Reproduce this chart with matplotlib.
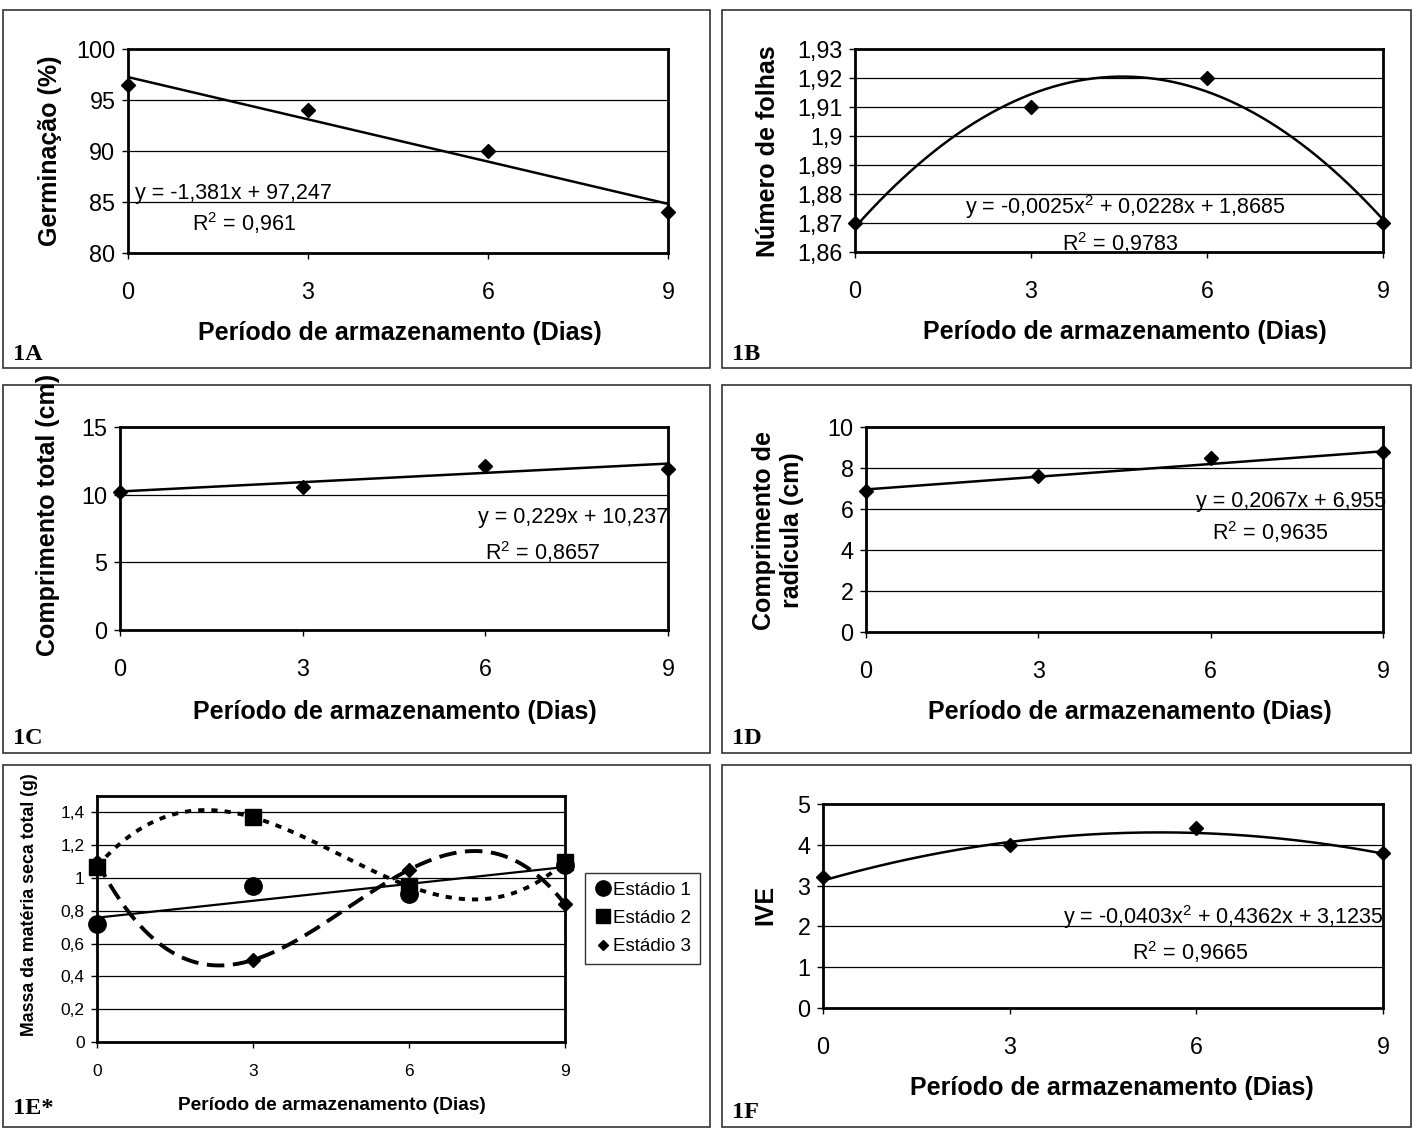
import numpy as np
import matplotlib
matplotlib.use("Agg")
import matplotlib.pyplot as plt
from matplotlib.patches import Rectangle
from matplotlib.lines import Line2D
from matplotlib.ticker import FuncFormatter

plt.rcParams['font.family'] = ['Liberation Sans', 'DejaVu Sans']
plt.rcParams['mathtext.fontset'] = 'custom'
plt.rcParams['mathtext.rm'] = 'Liberation Sans'

# data
days = [0, 3, 6, 9]
germinacao = [96.5, 94.0, 90.0, 84.0]
folhas = [1.87, 1.91, 1.92, 1.87]
comp_total = [10.2, 10.6, 12.1, 11.9]
comp_radicula = [6.9, 7.6, 8.5, 8.8]
ive = [3.2, 4.0, 4.4, 3.8]
massa_est1 = [0.72, 0.95, 0.90, 1.08]
massa_est2 = [1.07, 1.37, 0.95, 1.10]
massa_est3 = [1.10, 0.50, 1.05, 0.84]

# printed trend line coefficients (highest power first)
coef_a = [-1.381, 97.247]
coef_b = [-0.0025, 0.0228, 1.8685]
coef_c = [0.229, 10.237]
coef_d = [0.2067, 6.955]
coef_f = [-0.0403, 0.4362, 3.1235]

eq_a = ['y = -1,381x + 97,247', 'R$^{2}$ = 0,961']
eq_b = ['y = -0,0025x$^{2}$ + 0,0228x + 1,8685', 'R$^{2}$ = 0,9783']
eq_c = ['y = 0,229x + 10,237', 'R$^{2}$ = 0,8657']
eq_d = ['y = 0,2067x + 6,955', 'R$^{2}$ = 0,9635']
eq_f = ['y = -0,0403x$^{2}$ + 0,4362x + 3,1235', 'R$^{2}$ = 0,9665']

xlabel = 'Período de armazenamento (Dias)'

W, H = 1413, 1130
fig = plt.figure(figsize=(W / 100, H / 100), dpi=100)


def fx(x):
    return x / W


def fy(y):
    return 1 - y / H


def add_ax(l, t, r, b):
    return fig.add_axes([l / W, 1 - b / H, (r - l) / W, (b - t) / H])


def box(l, t, r, b):
    fig.add_artist(Rectangle((l / W, 1 - b / H), (r - l) / W, (b - t) / H,
                             transform=fig.transFigure, fill=False,
                             ec='#333333', lw=1.2))


def comma(v, pos):
    s = ('%.4f' % v).rstrip('0').rstrip('.')
    return s.replace('.', ',')


def style(ax, ylim, yticks, small=False):
    ax.set_xlim(0, 9)
    ax.set_ylim(*ylim)
    ax.set_xticks(days)
    ax.set_yticks(yticks)
    ax.yaxis.set_major_formatter(FuncFormatter(comma))
    fs = 12.5 if small else 16.8
    ax.tick_params(axis='x', direction='out', length=4, width=1,
                   pad=12 if small else 16, labelsize=fs)
    ax.tick_params(axis='y', direction='out', length=4, width=1,
                   pad=5, labelsize=fs)
    ax.grid(axis='y', color='black', lw=0.9)
    ax.set_axisbelow(True)
    for s in ax.spines.values():
        s.set_linewidth(2)
        s.set_color('black')


def trend(ax, coef):
    xs = np.linspace(0, 9, 200)
    ax.plot(xs, np.polyval(coef, xs), color='black', lw=1.8, zorder=3)


def points(ax, ys):
    ax.plot(days, ys, ls='none', marker='D', ms=7.5, color='black',
            clip_on=False, zorder=4)


def label(x, y, s, size=18, rot=0):
    fig.text(fx(x), fy(y), s, ha='center', va='center', fontsize=size,
             fontweight='bold', rotation=rot)


def tag(x, y, s):
    fig.text(fx(x), fy(y), s, ha='left', va='center', fontsize=17.5,
             fontweight='bold', family='Liberation Serif')


# panel frames
box(3, 10, 710, 368)
box(722, 10, 1411, 368)
box(3, 385, 710, 753)
box(722, 385, 1411, 753)
box(3, 765, 710, 1127)
box(722, 765, 1411, 1127)

# 1A
ax = add_ax(128, 49, 668, 253)
style(ax, (80, 100), [80, 85, 90, 95, 100])
trend(ax, coef_a)
points(ax, germinacao)
fig.text(fx(135), fy(193), eq_a[0], fontsize=15.5, va='center')
fig.text(fx(192), fy(223), eq_a[1], fontsize=15.5, va='center')
label(400, 333, xlabel)
label(50, 151, 'Germinação (%)', rot=90)
tag(13, 355, '1A')

# 1B
ax = add_ax(855, 49, 1383, 252)
style(ax, (1.86, 1.93), [1.86, 1.87, 1.88, 1.89, 1.90, 1.91, 1.92, 1.93])
trend(ax, coef_b)
points(ax, folhas)
fig.text(fx(1125), fy(207), eq_b[0], fontsize=15.5, va='center', ha='center')
fig.text(fx(1120), fy(243), eq_b[1], fontsize=15.5, va='center', ha='center')
label(1125, 332, xlabel)
label(768, 151, 'Número de folhas', rot=90)
tag(732, 355, '1B')

# 1C
ax = add_ax(120, 427, 668, 630)
style(ax, (0, 15), [0, 5, 10, 15])
trend(ax, coef_c)
points(ax, comp_total)
fig.text(fx(668), fy(518), eq_c[0], fontsize=15.5, va='center', ha='right')
fig.text(fx(543), fy(552), eq_c[1], fontsize=15.5, va='center', ha='center')
label(395, 712, xlabel)
label(48, 515, 'Comprimento total (cm)', rot=90)
tag(13, 738, '1C')

# 1D
ax = add_ax(866, 427, 1383, 632)
style(ax, (0, 10), [0, 2, 4, 6, 8, 10])
trend(ax, coef_d)
points(ax, comp_radicula)
fig.text(fx(1386), fy(502), eq_d[0], fontsize=15.5, va='center', ha='right')
fig.text(fx(1270), fy(532), eq_d[1], fontsize=15.5, va='center', ha='center')
label(1130, 712, xlabel)
label(778, 530, 'Comprimento de\nradícula (cm)', rot=90)
tag(732, 738, '1D')

# 1E*
ax = add_ax(97, 796, 565, 1042)
style(ax, (0, 1.5), [0, 0.2, 0.4, 0.6, 0.8, 1.0, 1.2, 1.4], small=True)
xs = np.linspace(0, 9, 200)
ax.plot(xs, np.polyval(np.polyfit(days, massa_est1, 1), xs),
        color='black', lw=1.6, zorder=3)
ax.plot(xs, np.polyval(np.polyfit(days, massa_est2, 3), xs),
        color='black', lw=2.8, ls=(0, (1.6, 1.8)), zorder=3)
ax.plot(xs, np.polyval(np.polyfit(days, massa_est3, 3), xs),
        color='black', lw=2.8, ls=(0, (4.5, 2.2)), zorder=3)
ax.plot(days, massa_est1, ls='none', marker='o', ms=12.5, color='black',
        clip_on=False, zorder=4)
ax.plot(days, massa_est2, ls='none', marker='s', ms=11.5, color='black',
        clip_on=False, zorder=5)
ax.plot(days, massa_est3, ls='none', marker='D', ms=7, color='black',
        clip_on=False, zorder=6)
handles = [
    Line2D([], [], ls='none', marker='o', ms=11, color='black'),
    Line2D([], [], ls='none', marker='s', ms=10, color='black'),
    Line2D([], [], ls='none', marker='D', ms=5, color='black'),
]
leg = fig.legend(handles, ['Estádio 1', 'Estádio 2', 'Estádio 3'],
                 loc='upper left', bbox_to_anchor=(fx(585), fy(873)),
                 fontsize=13.5, frameon=True, fancybox=False,
                 handletextpad=0.05, handlelength=1.0, borderpad=0.45,
                 labelspacing=0.6, borderaxespad=0)
leg.get_frame().set_edgecolor('black')
leg.get_frame().set_linewidth(1)
label(332, 1105, xlabel, size=13.8)
label(30, 905, 'Massa da matéria seca total (g)', size=12.8, rot=90)
tag(13, 1108, '1E*')

# 1F
ax = add_ax(823, 804, 1383, 1008)
style(ax, (0, 5), [0, 1, 2, 3, 4, 5])
trend(ax, coef_f)
points(ax, ive)
fig.text(fx(1383), fy(917), eq_f[0], fontsize=15.5, va='center', ha='right')
fig.text(fx(1190), fy(952), eq_f[1], fontsize=15.5, va='center', ha='center')
label(1112, 1088, xlabel)
label(765, 905, 'IVE', rot=90)
tag(732, 1112, '1F')

fig.savefig('out.png', dpi=100)
